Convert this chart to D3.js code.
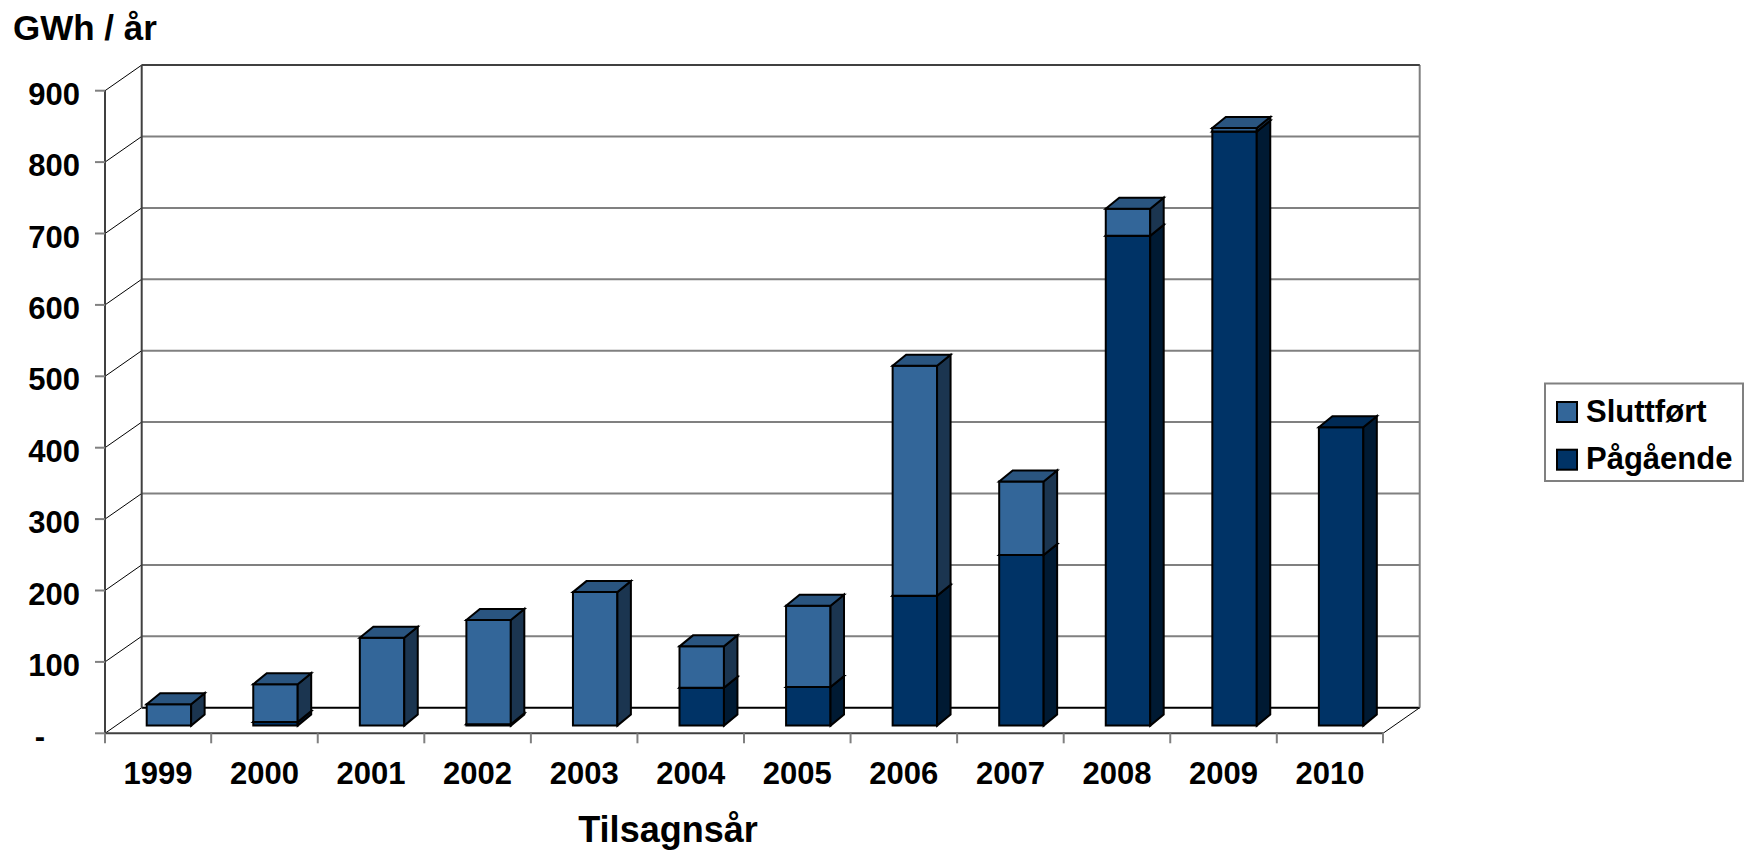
<!DOCTYPE html>
<html>
<head>
<meta charset="utf-8">
<script src="https://cdn.jsdelivr.net/npm/d3@7"></script>
<style>
  body { margin: 0; background: #fff; }
  text { font-family: "Liberation Sans", Arial, sans-serif; font-weight: bold; fill: #000; }
</style>
</head>
<body>
<div id="chart"></div>
<script>
// data (GWh / år)
const years = ['1999', '2000', '2001', '2002', '2003', '2004', '2005', '2006', '2007', '2008', '2009', '2010'];
const pagaende = [0, 5, 0, 2, 0, 53, 54, 182, 239, 686, 832, 418];
const sluttfort = [30, 53, 123, 146, 187, 58, 114, 322, 103, 38, 5, 0];
const yTicks = [0, 100, 200, 300, 400, 500, 600, 700, 800, 900];
const seriesNames = ['Sluttført', 'Pågående'];

const width = 1746, height = 858;

// front plane of the plot and the depth offset of the back wall
const x0 = 105, x1 = 1383;
const DX = 36.7, DY = 25.6;
// bars: front face sits at depth f1, the bar itself is bdx x bdy deep
const f1 = 0.3;
const bdx = 13.5, bdy = 11;

const colors = {
  slutt: { front: '#336699', top: '#2a5580', side: '#1b3550' },
  pag: { front: '#003366', top: '#002a55', side: '#001a33' }
};

const x = d3.scaleBand().domain(years).range([x0, x1]).paddingInner(0.583).paddingOuter(0.288);
const y = d3.scaleLinear().domain([0, 900]).range([733.3, 90.7]);

// point on a bar's front face (back = false) or back face (back = true)
function p(px, v, back) {
  const fx = px + DX * f1, fy = y(v) - DY * f1;
  return back ? [fx + bdx, fy - bdy] : [fx, fy];
}

const svg = d3.select('#chart').append('svg')
  .attr('width', width)
  .attr('height', height);

// back wall gridlines
svg.selectAll('.grid')
  .data(yTicks.slice(1))
  .enter()
  .append('line')
  .attr('x1', x0 + DX).attr('x2', x1 + DX)
  .attr('y1', d => y(d) - DY).attr('y2', d => y(d) - DY)
  .attr('stroke', '#808080')
  .attr('stroke-width', 2);

// side wall diagonals
svg.selectAll('.diag')
  .data(yTicks)
  .enter()
  .append('line')
  .attr('x1', x0).attr('x2', x0 + DX)
  .attr('y1', d => y(d)).attr('y2', d => y(d) - DY)
  .attr('stroke', '#000')
  .attr('stroke-width', 1);

// back floor edge
svg.append('line')
  .attr('x1', x0 + DX).attr('x2', x1 + DX)
  .attr('y1', y(0) - DY).attr('y2', y(0) - DY)
  .attr('stroke', '#000').attr('stroke-width', 2);

// back wall left edge and right edge
svg.append('line')
  .attr('x1', x0 + DX).attr('x2', x0 + DX)
  .attr('y1', y(900) - DY).attr('y2', y(0) - DY)
  .attr('stroke', '#404040').attr('stroke-width', 2);
svg.append('line')
  .attr('x1', x1 + DX).attr('x2', x1 + DX)
  .attr('y1', y(900) - DY).attr('y2', y(0) - DY)
  .attr('stroke', '#808080').attr('stroke-width', 2);
// top edge of back wall
svg.append('line')
  .attr('x1', x0 + DX).attr('x2', x1 + DX)
  .attr('y1', y(900) - DY).attr('y2', y(900) - DY)
  .attr('stroke', '#404040').attr('stroke-width', 2);

// floor right diagonal
svg.append('line')
  .attr('x1', x1).attr('x2', x1 + DX)
  .attr('y1', y(0)).attr('y2', y(0) - DY)
  .attr('stroke', '#000').attr('stroke-width', 1);

// front value axis
svg.append('line')
  .attr('x1', x0).attr('x2', x0)
  .attr('y1', y(900)).attr('y2', y(0))
  .attr('stroke', '#404040').attr('stroke-width', 2);
svg.selectAll('.ytick')
  .data(yTicks)
  .enter()
  .append('line')
  .attr('x1', x0 - 10).attr('x2', x0)
  .attr('y1', d => y(d)).attr('y2', d => y(d))
  .attr('stroke', '#808080').attr('stroke-width', 2);

// front floor edge and category ticks
svg.append('line')
  .attr('x1', x0).attr('x2', x1)
  .attr('y1', y(0)).attr('y2', y(0))
  .attr('stroke', '#404040').attr('stroke-width', 2);
const bounds = years.map(d => x(d) - x.step() * x.paddingInner() / 2);
bounds.push(x1);
bounds[0] = x0;
svg.selectAll('.xtick')
  .data(bounds)
  .enter()
  .append('line')
  .attr('x1', d => d).attr('x2', d => d)
  .attr('y1', y(0)).attr('y2', y(0) + 10)
  .attr('stroke', '#808080').attr('stroke-width', 2);

// bars, bottom segment first so the upper one covers its top
function face(pts) {
  return 'M' + pts.map(q => q.join(',')).join('L') + 'Z';
}
const segs = [];
years.forEach((yr, i) => {
  segs.push({ yr: yr, lo: 0, hi: pagaende[i], c: colors.pag });
  segs.push({ yr: yr, lo: pagaende[i], hi: pagaende[i] + sluttfort[i], c: colors.slutt });
});
const bars = svg.selectAll('.seg')
  .data(segs.filter(s => s.hi > s.lo))
  .enter()
  .append('g')
  .attr('class', 'seg');
bars.append('path') // front
  .attr('d', s => {
    const l = x(s.yr), r = x(s.yr) + x.bandwidth();
    return face([p(l, s.lo), p(r, s.lo), p(r, s.hi), p(l, s.hi)]);
  })
  .attr('fill', s => s.c.front);
bars.append('path') // side
  .attr('d', s => {
    const r = x(s.yr) + x.bandwidth();
    return face([p(r, s.lo), p(r, s.lo, true), p(r, s.hi, true), p(r, s.hi)]);
  })
  .attr('fill', s => s.c.side);
bars.append('path') // top
  .attr('d', s => {
    const l = x(s.yr), r = x(s.yr) + x.bandwidth();
    return face([p(l, s.hi), p(r, s.hi), p(r, s.hi, true), p(l, s.hi, true)]);
  })
  .attr('fill', s => s.c.top);
bars.selectAll('path')
  .attr('stroke', '#000')
  .attr('stroke-width', 2)
  .attr('stroke-linejoin', 'miter');

// value labels
svg.selectAll('.ylab')
  .data(yTicks)
  .enter()
  .append('text')
  .attr('x', d => d === 0 ? 40 : 80)
  .attr('y', d => y(d) + 14)
  .attr('text-anchor', d => d === 0 ? 'middle' : 'end')
  .style('font-size', '31px')
  .text(d => d === 0 ? '-' : d);

// category labels
svg.selectAll('.xlab')
  .data(years)
  .enter()
  .append('text')
  .attr('x', d => x(d) + x.bandwidth() / 2)
  .attr('y', 783.5)
  .attr('text-anchor', 'middle')
  .style('font-size', '31px')
  .text(d => d);

// titles
svg.append('text')
  .attr('x', 13).attr('y', 39.5)
  .style('font-size', '35px')
  .text('GWh / år');
svg.append('text')
  .attr('x', 668).attr('y', 841.5)
  .attr('text-anchor', 'middle')
  .style('font-size', '36px')
  .text('Tilsagnsår');

// legend
const legend = svg.append('g');
legend.append('rect')
  .attr('x', 1545).attr('y', 383.5)
  .attr('width', 198).attr('height', 97.5)
  .attr('fill', '#fff')
  .attr('stroke', '#808080')
  .attr('stroke-width', 2);
const items = legend.selectAll('.item')
  .data(seriesNames)
  .enter()
  .append('g')
  .attr('transform', (d, i) => 'translate(1557,' + (402 + i * 47.7) + ')');
items.append('rect')
  .attr('width', 20).attr('height', 20)
  .attr('fill', (d, i) => i === 0 ? colors.slutt.front : colors.pag.front)
  .attr('stroke', '#000')
  .attr('stroke-width', 2);
items.append('text')
  .attr('x', 29).attr('y', 19.5)
  .style('font-size', '31px')
  .text(d => d);
</script>
</body>
</html>
